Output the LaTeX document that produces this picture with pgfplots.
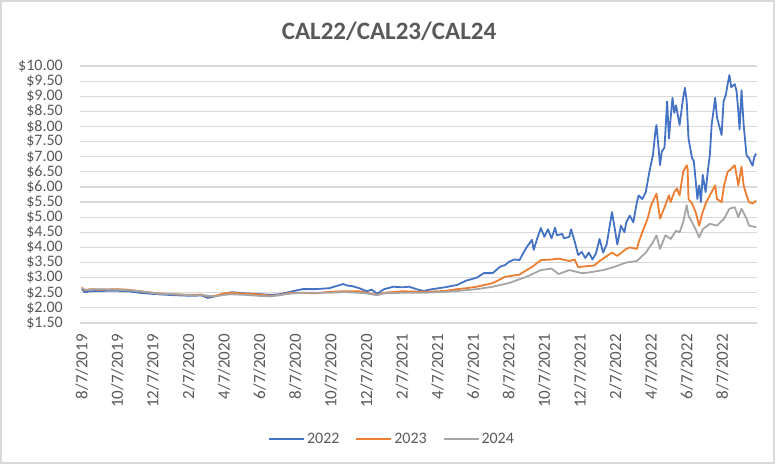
\documentclass[border=0pt]{standalone}
\usepackage{pgfplots}
\pgfplotsset{compat=1.18}
\usepackage{fontspec}
\setmainfont{Carlito}

\definecolor{c22}{HTML}{4472C4}
\definecolor{c23}{HTML}{ED7D31}
\definecolor{c24}{HTML}{A5A5A5}
\definecolor{gridc}{HTML}{D9D9D9}
\definecolor{txt}{HTML}{595959}

\begin{document}
\begin{tikzpicture}[x=1pt,y=1pt]
\path[use as bounding box] (0,0) rectangle (777,466);
\draw[gridc, line width=1.2pt] (1,3) rectangle (774,465);
\node[txt, font=\fontsize{25}{30}\selectfont\bfseries] at (389,435) {CAL22/CAL23/CAL24};

\begin{axis}[
	at={(80pt,143pt)}, anchor=south west,
	scale only axis,
	width=677pt, height=257pt,
	xmin=-0.1, xmax=37.95,
	ymin=1.5, ymax=10,
	ytick={1.5,2,...,10},
	xtick={0,2,...,36},
	xticklabels={8/7/2019,10/7/2019,12/7/2019,2/7/2020,4/7/2020,6/7/2020,8/7/2020,10/7/2020,12/7/2020,2/7/2021,4/7/2021,6/7/2021,8/7/2021,10/7/2021,12/7/2021,2/7/2022,4/7/2022,6/7/2022,8/7/2022},
	/pgf/number format/.cd, fixed, fixed zerofill, precision=2, assume math mode=true,
	/pgfplots/.cd,
	yticklabel={\$\pgfmathprintnumber{\tick}},
	ymajorgrids,
	major grid style={gridc, line width=1.2pt},
	axis line style={draw=none},
	major tick length=0pt,
	tick label style={txt, font=\fontsize{17}{20}\selectfont},
	yticklabel style={anchor=east, inner sep=0pt, xshift=-17pt, font=\fontsize{16}{16}\selectfont},
	xticklabel style={rotate=90, anchor=east, inner ysep=0pt, inner xsep=11pt},
	legend columns=3,
	legend style={at={(0.461,-0.451)}, anchor=center, draw=none, fill=none,
		font=\fontsize{16}{19}\selectfont, text=txt,
		/tikz/every even column/.append style={column sep=14pt}},
	legend image code/.code={\draw[#1] (0pt,0pt) -- (35pt,0pt);},
	every axis plot/.append style={line width=1.8pt, line join=round},
]
% 2022
\addplot[c22] coordinates {
(0,2.62) (0.17,2.52) (0.45,2.55) (1.0,2.56) (1.85,2.57) (2.6,2.55) (3.26,2.50) (4.27,2.45) (5.2,2.42) (6.07,2.40) (6.74,2.41) (7.08,2.33) (7.47,2.38) (8.03,2.47) (8.43,2.52) (9.16,2.48) (9.9,2.46) (10.56,2.43) (11.1,2.45) (11.7,2.53) (12.4,2.62) (13.1,2.62) (13.9,2.65) (14.7,2.79) (14.9,2.74) (15.2,2.72) (15.6,2.65) (16.0,2.55) (16.3,2.60) (16.6,2.47) (17.0,2.62) (17.5,2.70) (18.0,2.68) (18.4,2.70) (18.8,2.62) (19.2,2.56) (19.7,2.62) (20.4,2.68) (21.1,2.76) (21.6,2.90) (22.2,3.00) (22.6,3.15) (23.1,3.15) (23.5,3.36) (23.8,3.42) (24.0,3.52) (24.3,3.60) (24.6,3.58) (24.8,3.80) (25.0,4.00) (25.3,4.25) (25.4,3.92) (25.6,4.30) (25.8,4.64) (26.0,4.35) (26.2,4.60) (26.4,4.30) (26.6,4.65) (26.7,4.40) (27.0,4.45) (27.1,4.30) (27.4,4.35) (27.5,4.60) (27.7,4.20) (27.9,3.75) (28.1,3.85) (28.3,3.65) (28.5,3.83) (28.7,3.60) (28.9,3.80) (29.1,4.28) (29.3,3.83) (29.5,4.10) (29.8,5.17) (30.1,4.10) (30.2,4.40) (30.3,4.72) (30.5,4.50) (30.6,4.83) (30.8,5.05) (31.0,4.83) (31.2,5.50) (31.3,5.72) (31.5,5.60) (31.7,5.83) (31.9,6.50) (32.1,7.05) (32.25,7.90) (32.3,8.05) (32.4,7.40) (32.5,6.72) (32.6,7.17) (32.75,7.30) (32.9,8.83) (33.0,7.60) (33.1,8.30) (33.2,8.95) (33.3,8.45) (33.4,8.70) (33.6,8.05) (33.8,8.95) (33.9,9.28) (34.0,8.83) (34.1,7.60) (34.3,6.95) (34.4,6.85) (34.6,5.60) (34.7,6.05) (34.8,5.50) (34.9,6.40) (35.06,5.83) (35.2,6.60) (35.3,7.05) (35.4,8.05) (35.6,8.95) (35.7,8.30) (35.96,7.72) (36.07,8.83) (36.2,9.05) (36.3,9.40) (36.4,9.70) (36.5,9.30) (36.7,9.40) (36.8,9.17) (36.9,8.50) (36.97,7.90) (37.08,9.20) (37.2,8.05) (37.36,7.05) (37.5,6.95) (37.7,6.70) (37.8,7.00) (37.9,7.10)
};
\addlegendentry{2022}
% 2023
\addplot[c23] coordinates {
(0,2.68) (0.17,2.58) (0.5,2.62) (1.0,2.60) (2.0,2.62) (2.6,2.60) (3.3,2.55) (4.3,2.48) (5.2,2.45) (6.1,2.43) (6.7,2.44) (7.1,2.38) (7.5,2.40) (8.0,2.48) (8.4,2.50) (9.2,2.47) (9.9,2.45) (10.6,2.40) (11.1,2.42) (11.7,2.50) (12.4,2.50) (13.1,2.48) (13.9,2.53) (14.7,2.55) (15.6,2.55) (16.0,2.50) (16.6,2.43) (17.0,2.50) (18.0,2.55) (19.2,2.53) (20.4,2.56) (21.1,2.62) (21.6,2.65) (22.2,2.70) (23.1,2.82) (23.8,3.03) (24.6,3.10) (25.0,3.25) (25.3,3.35) (25.8,3.58) (26.4,3.60) (26.8,3.63) (27.4,3.55) (27.7,3.60) (27.9,3.35) (28.4,3.38) (28.8,3.40) (29.1,3.55) (29.8,3.83) (30.1,3.72) (30.6,3.95) (30.8,4.00) (31.2,3.95) (31.3,4.17) (31.5,4.50) (31.8,4.95) (32.0,5.40) (32.3,5.78) (32.5,4.95) (32.8,5.40) (33.0,5.72) (33.1,5.50) (33.3,5.83) (33.45,5.95) (33.6,5.72) (33.8,6.50) (34.0,6.72) (34.05,6.60) (34.1,5.60) (34.3,5.45) (34.5,5.17) (34.7,4.72) (34.8,4.95) (34.9,5.17) (35.1,5.50) (35.4,5.83) (35.6,6.05) (35.7,5.60) (35.96,5.50) (36.1,6.05) (36.3,6.50) (36.5,6.60) (36.7,6.72) (36.9,6.05) (37.08,6.67) (37.2,6.05) (37.36,5.72) (37.5,5.50) (37.7,5.45) (37.9,5.55)
};
\addlegendentry{2023}
% 2024
\addplot[c24] coordinates {
(0,2.65) (0.2,2.60) (1.0,2.62) (2.0,2.60) (2.6,2.58) (3.3,2.55) (4.3,2.47) (5.2,2.45) (6.1,2.42) (6.7,2.42) (7.1,2.40) (7.5,2.38) (8.0,2.43) (8.4,2.45) (9.2,2.43) (9.9,2.40) (10.6,2.38) (11.1,2.42) (11.7,2.47) (12.4,2.50) (13.1,2.50) (13.9,2.50) (14.7,2.52) (15.6,2.50) (16.0,2.48) (16.6,2.42) (17.0,2.48) (18.0,2.50) (19.2,2.50) (20.4,2.53) (21.1,2.56) (22.2,2.62) (23.1,2.70) (24.0,2.82) (25.0,3.03) (25.8,3.25) (26.4,3.30) (26.8,3.12) (27.4,3.25) (28.1,3.15) (28.5,3.17) (29.3,3.25) (29.8,3.33) (30.6,3.50) (31.2,3.55) (31.7,3.83) (32.1,4.17) (32.3,4.40) (32.5,3.95) (32.8,4.40) (33.1,4.28) (33.4,4.55) (33.6,4.50) (33.8,4.83) (34.0,5.40) (34.1,5.05) (34.3,4.83) (34.5,4.60) (34.7,4.33) (34.9,4.60) (35.3,4.78) (35.7,4.72) (36.1,4.95) (36.4,5.28) (36.7,5.33) (36.9,5.00) (37.08,5.28) (37.36,4.95) (37.5,4.72) (37.9,4.67)
};
\addlegendentry{2024}
\end{axis}
\end{tikzpicture}
\end{document}
